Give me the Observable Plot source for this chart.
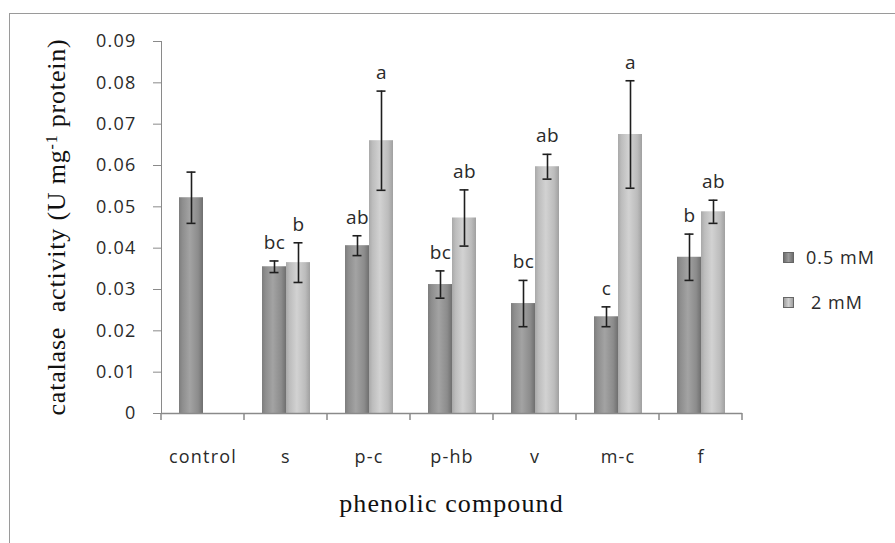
<!DOCTYPE html>
<html>
<head>
<meta charset="utf-8">
<script src="https://cdn.jsdelivr.net/npm/d3@7"></script>
<script src="https://cdn.jsdelivr.net/npm/@observablehq/plot@0.6"></script>
<style>
  html, body { margin: 0; padding: 0; background: #fff; }
  #wrap { position: relative; width: 895px; height: 543px; overflow: hidden; background: #fff; }
  #border { position: absolute; left: 9px; top: 13px; width: 900px; height: 540px;
            border-left: 1.5px solid #9a9a9a; border-top: 1.5px solid #9a9a9a; }
  #chart { position: absolute; left: 0; top: 0; }
  #chart svg text { fill: #2a2a2a; letter-spacing: 1.2px; }
  #chart svg text.lab { letter-spacing: 0.3px; }
  .legend { position: absolute; font-family: "Open Sans", sans-serif; font-size: 18px; color: #2a2a2a; letter-spacing: 1px; }
  .legend .item { position: absolute; white-space: nowrap; display: flex; align-items: center; }
  .legend .sw { width: 9px; height: 9px; border: 1px solid #666; margin-right: 12px; }
</style>
</head>
<body>
<div id="wrap">
  <div id="border"></div>
  <div id="chart"></div>
  <div class="legend" id="legend"></div>
</div>
<script>
// ---- data ----
const categories = ["control", "s", "p-c", "p-hb", "v", "m-c", "f"];
const doses = ["0.5 mM", "2 mM"];
const low = [0.0522, 0.0355, 0.0406, 0.0312, 0.0266, 0.0234, 0.0378];
const lowErr = [0.0062, 0.0014, 0.0024, 0.0033, 0.0056, 0.0024, 0.0056];
const high = [null, 0.0365, 0.0660, 0.0473, 0.0597, 0.0675, 0.0488];
const highErr = [null, 0.0048, 0.0120, 0.0068, 0.0030, 0.0130, 0.0028];
const lowLetters = ["", "bc", "ab", "bc", "bc", "c", "b"];
const highLetters = ["", "b", "a", "ab", "ab", "a", "ab"];
const yTicks = [0, 0.01, 0.02, 0.03, 0.04, 0.05, 0.06, 0.07, 0.08, 0.09];
const yTitle = ["catalase  activity (U mg", "-1", " protein)"];
const xTitle = "phenolic compound";

// table built from the arrays
const rows = [];
categories.forEach((c, i) => {
  rows.push({cat: c, dose: doses[0], v: low[i], e: lowErr[i], lab: lowLetters[i]});
  if (high[i] != null) rows.push({cat: c, dose: doses[1], v: high[i], e: highErr[i], lab: highLetters[i]});
});

const chart = Plot.plot({
  width: 895,
  height: 543,
  marginLeft: 160,
  marginRight: 152,
  marginTop: 41,
  marginBottom: 130,
  style: {fontFamily: "'Open Sans', sans-serif", fontSize: "18px", color: "#8a8a8a", background: "transparent"},
  facet: {data: rows, x: "cat"},
  fx: {domain: categories, padding: 0, axis: "bottom", tickSize: 0, tickPadding: 37, label: null},
  x: {domain: doses, paddingInner: 0, paddingOuter: 0.7, axis: null},
  y: {domain: [0, 0.09], ticks: yTicks, tickFormat: d => d === 0 ? "0" : d3.format(".2f")(d),
      tickSize: 8, tickPadding: 17, label: null, line: true},
  marks: [
    Plot.barY(rows, {filter: d => d.dose === doses[0], x: "dose", y1: 0, y2: "v", fill: "url(#g05)"}),
    Plot.barY(rows, {filter: d => d.dose === doses[1], x: "dose", y1: 0, y2: "v", fill: "url(#g2)"}),
    Plot.ruleY([0], {stroke: "#8a8a8a", strokeWidth: 1.5}),
    Plot.ruleX(rows, {x: "dose", y1: d => d.v - d.e, y2: d => d.v + d.e, stroke: "#1e1e1e", strokeWidth: 1.6}),
    Plot.tickY(rows, {x: "dose", y: d => d.v + d.e, stroke: "#1e1e1e", strokeWidth: 1.6, insetLeft: 7.5, insetRight: 7.5}),
    Plot.tickY(rows, {x: "dose", y: d => d.v - d.e, stroke: "#1e1e1e", strokeWidth: 1.6, insetLeft: 7.5, insetRight: 7.5}),
    Plot.text(rows, {x: "dose", y: d => d.v + d.e, text: "lab", lineAnchor: "bottom", dy: -12,
                     fill: "#2a2a2a", fontSize: 19, className: "labs"})
  ]
});

// gradient definitions for the bars
const svg = d3.select(chart.tagName.toLowerCase() === "svg" ? chart : chart.querySelector("svg"));
svg.selectAll(".labs text").classed("lab", true);
const defs = svg.insert("defs", ":first-child");
function grad(id, stops) {
  const g = defs.append("linearGradient").attr("id", id).attr("x1", "0").attr("x2", "1").attr("y1", "0").attr("y2", "0");
  stops.forEach(([o, c]) => g.append("stop").attr("offset", o).attr("stop-color", c));
}
grad("g05", [[0, "#7d7d7d"], [0.15, "#8e8e8e"], [0.45, "#a3a3a3"], [0.8, "#8c8c8c"], [1, "#6f6f6f"]]);
grad("g2", [[0, "#a9a9a9"], [0.15, "#bdbdbd"], [0.45, "#d2d2d2"], [0.8, "#bcbcbc"], [1, "#a0a0a0"]]);

// boundary ticks on the category axis, from Plot's fx and y scales
const fxS = chart.scale("fx");
const yS = chart.scale("y");
if (fxS && yS) {
  const y0 = yS.apply(0);
  const bw = fxS.bandwidth;
  const edges = categories.map(c => fxS.apply(c));
  edges.push(fxS.apply(categories[categories.length - 1]) + bw);
  const g = svg.append("g").attr("stroke", "#8a8a8a").attr("stroke-width", 1.5);
  edges.forEach(x => g.append("line").attr("x1", x).attr("x2", x).attr("y1", y0).attr("y2", y0 + 7));

  // axis titles
  const [r0, r1] = yS.range;
  const yc = (r0 + r1) / 2;
  const t = svg.append("text")
    .attr("transform", `translate(65,${yc}) rotate(-90)`)
    .attr("text-anchor", "middle")
    .style("font-family", "'Liberation Serif', 'Times New Roman', serif")
    .style("font-size", "26px").style("letter-spacing", "0.8px").style("fill", "#111");
  t.append("tspan").text(yTitle[0]);
  t.append("tspan").attr("baseline-shift", "super").style("font-size", "16px").text(yTitle[1]);
  t.append("tspan").text(yTitle[2]);

  const xc = (fxS.range[0] + fxS.range[1]) / 2;
  svg.append("text")
    .attr("x", xc).attr("y", 512)
    .attr("text-anchor", "middle")
    .style("font-family", "'Liberation Serif', 'Times New Roman', serif")
    .style("font-size", "26px").style("letter-spacing", "1.1px").style("fill", "#111")
    .text(xTitle);
}

document.getElementById("chart").appendChild(chart);

// legend
const leg = document.getElementById("legend");
const legendPos = [[783, 258], [783, 303]];
doses.forEach((d, i) => {
  const it = document.createElement("div");
  it.className = "item";
  it.style.left = legendPos[i][0] + "px";
  it.style.top = (legendPos[i][1] - 13) + "px";
  const sw = document.createElement("span");
  sw.className = "sw";
  sw.style.background = i === 0
    ? "linear-gradient(90deg,#6f6f6f,#9a9a9a,#6f6f6f)"
    : "linear-gradient(90deg,#a0a0a0,#d0d0d0,#a0a0a0)";
  if (i === 1) sw.style.marginRight = "17px";
  it.appendChild(sw);
  it.appendChild(document.createTextNode(d));
  leg.appendChild(it);
});
</script>
</body>
</html>
